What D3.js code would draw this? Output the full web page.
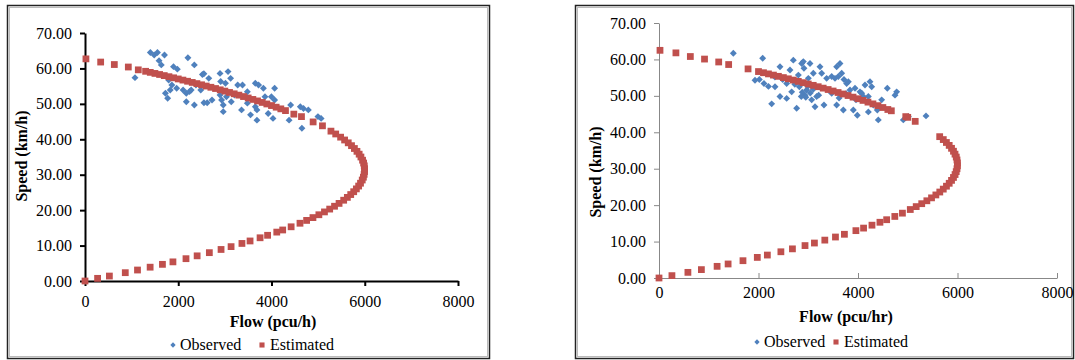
<!DOCTYPE html>
<html>
<head>
<meta charset="utf-8">
<script src="https://cdn.jsdelivr.net/npm/d3@7"></script>
<style>
  body { margin: 0; background: #fff; }
  svg { display: block; }
  text { font-family: "Liberation Serif", "Times New Roman", serif; fill: #000; }
</style>
</head>
<body>
<script>
// axis ticks
const xTicks = [0, 2000, 4000, 6000, 8000];
const yTicks = [0, 10, 20, 30, 40, 50, 60, 70];
const seriesNames = ["Observed", "Estimated"];

// left chart: [flow, speed]
const leftObserved = [
  [1402,64.5],[1484,63.8],[1554,64.5],[1705,63.8],[1588,62.2],[1636,61.0],[1072,57.4],
  [2207,63.0],[2345,61.0],[1898,60.5],[1981,59.8],[2518,58.3],[2655,57.2],[2896,58.6],
  [3068,59.1],[3123,57.2],[2910,56.3],[3013,55.8],[3275,55.3],[1795,56.7],[1863,55.3],
  [1828,53.9],[1725,53.0],[1773,51.6],[1966,54.4],[2104,53.9],[2173,53.0],[2242,53.5],
  [2277,53.9],[2380,55.3],[2483,53.9],[2173,50.6],[2345,49.7],[2551,50.3],[2621,50.3],
  [2724,51.1],[2896,52.5],[2930,51.1],[2965,49.7],[2965,47.8],[3034,52.0],[3137,50.6],
  [3206,52.5],[3357,48.3],[3378,55.3],[3482,53.4],[3653,55.8],[3723,55.3],[3826,54.4],
  [4067,54.4],[3482,50.2],[3653,49.2],[3860,52.0],[3998,52.0],[4067,51.1],[3550,46.9],
  [3688,48.3],[3929,47.3],[4032,45.9],[4411,49.7],[4377,45.4],[4618,49.2],[4686,48.7],
  [4790,48.3],[4996,46.4],[5064,45.9],[4652,43.1],[3688,45.4],[2550,58.5]
];
const leftEstimated = [
  [0,0],[270,0.75],[523,1.4],[864,2.35],[1126,3.1],[1397,3.9],[1661,4.7],[1886,5.4],
  [2166,6.3],[2405,7.1],[2667,8.0],[2918,8.9],[3133,9.7],[3366,10.6],[3540,11.3],
  [3755,12.2],[3916,12.9],[4113,13.8],[4240,14.4],[4421,15.3],[4611,16.3],[4753,17.1],
  [4889,17.9],[5016,18.7],[5136,19.5],[5248,20.3],[5352,21.1],[5449,21.9],[5548,22.8],
  [5627,23.6],[5699,24.4],[5763,25.2],[5820,26.0],[5869,26.8],[5909,27.6],[5946,28.5],
  [5971,29.3],[5987,30.1],[5996,30.9],[5996,31.7],[5990,32.5],[5976,33.3],[5953,34.1],
  [5918,35.0],[5880,35.8],[5833,36.6],[5778,37.4],[5716,38.2],[5646,39.0],[5568,39.8],
  [5482,40.6],[5377,41.5],[5275,42.3],
  [5093,43.8],[4893,44.9],[4643,46.4],[4479,47.1],
  [4300,48.10],[4200,48.59],[4100,49.06],[4000,49.52],[3900,49.97],[3800,50.40],[3700,50.83],
  [3600,51.25],[3500,51.66],[3400,52.06],[3300,52.46],[3200,52.84],[3100,53.22],[3000,53.60],
  [2900,53.96],[2800,54.33],[2700,54.68],[2600,55.03],[2500,55.38],[2400,55.72],[2300,56.05],
  [2200,56.38],[2100,56.71],[2000,57.03],[1900,57.35],[1800,57.67],[1700,57.98],[1600,58.29],
  [1500,58.59],[1400,58.89],[1300,59.19],
  [1143,59.6],[929,60.4],[629,61.1],[336,61.8],[20,62.7]
];

// right chart: [flow, speed]
const rightObserved = [
  [1494,61.7],[2084,60.3],[1930,54.3],[2017,54.5],[2110,53.4],[2265,47.8],[2332,52.5],
  [2432,58.0],[2486,54.5],[2566,53.4],[2633,57.1],[2667,51.1],[2700,59.8],[2767,46.6],
  [2801,55.7],[2821,52.5],[2868,58.9],[2901,59.4],[2914,57.6],[2935,50.2],[2968,51.6],
  [3002,54.8],[3035,58.9],[3069,48.9],[3102,56.2],[3136,47.0],[3169,49.8],[3236,58.0],
  [3270,56.2],[3316,47.5],[3370,54.8],[3471,55.3],[3538,54.8],[3571,58.0],[3605,55.3],
  [3638,58.9],[3672,56.2],[3718,54.5],[3772,53.4],[3806,53.9],[3839,51.6],[3906,46.1],
  [3960,48.9],[3986,44.7],[4040,51.1],[4074,50.7],[4107,49.8],[4141,53.0],[4208,45.6],
  [4241,53.9],[4275,52.5],[4308,47.5],[4388,46.1],[4408,43.4],[4476,48.9],[4589,52.1],
  [4777,51.1],[4744,50.2],[4911,43.4],[5012,44.3],[5367,44.5],[2432,49.8],[2566,49.3],
  [3471,50.7],[3571,47.5],[3705,46.1],[3940,52.1],[4208,49.8],[2880,51.0],[2950,49.6],
  [3040,50.8],[2990,52.6],[2860,49.8],[3100,51.8],[3210,50.2],[2730,53.2],[3420,51.5],
  [3620,49.4],[3760,50.6],[2200,52.6],[2330,55.2]
];
const rightEstimated = [
  [0,0],[260,0.65],[581,1.55],[852,2.3],[1168,3.2],[1389,3.85],[1688,4.75],[1976,5.65],
  [2178,6.3],[2450,7.2],[2682,8.0],[2935,8.9],[3124,9.6],[3333,10.4],[3547,11.25],
  [3727,12.0],[3958,13.0],[4112,13.7],[4281,14.5],[4441,15.3],[4576,16.0],[4740,16.9],
  [4893,17.8],[5051,18.8],[5170,19.6],[5281,20.4],[5384,21.2],[5478,22.0],[5565,22.8],
  [5644,23.6],[5714,24.4],[5778,25.2],[5833,26.0],[5880,26.8],[5919,27.6],[5951,28.4],
  [5974,29.2],[5990,30.0],[5998,30.8],[5998,31.6],[5990,32.4],[5975,33.2],[5950,34.0],
  [5919,34.8],[5880,35.6],[5833,36.4],[5777,37.2],[5714,38.0],[5642,38.8],
  [5150,43.0],[5000,44.1],[4960,44.3],[4670,45.9],
  [4600,46.26],[4500,46.80],[4400,47.31],[4300,47.80],[4200,48.28],[4100,48.75],[4000,49.21],
  [3900,49.65],[3800,50.09],[3700,50.51],[3600,50.92],[3500,51.33],[3400,51.74],[3300,52.12],
  [3200,52.51],[3100,52.89],[3000,53.25],[2900,53.62],[2800,53.98],[2700,54.33],[2600,54.68],
  [2500,55.02],[2400,55.36],[2300,55.70],[2200,56.03],[2100,56.35],[2000,56.67],
  [1790,57.4],[1400,58.6],[1200,59.3],[915,60.1],[630,60.8],[340,61.8],[20,62.5]
];

const blue = "#4f81bd", red = "#c0504d";

const svg = d3.select("body").append("svg")
    .attr("width", 1075)
    .attr("height", 360);

const diamond = d3.symbol(d3.symbolSquare, 24);
const square = d3.symbol(d3.symbolSquare, 46);

function drawPanel(p) {
    const g = svg.append("g");

    // chart frame (dark line with a grey inner line)
    g.append("rect")
        .attr("x", p.frame[0] + 0.5).attr("y", p.frame[1] + 0.5)
        .attr("width", p.frame[2] - p.frame[0]).attr("height", p.frame[3] - p.frame[1])
        .attr("fill", "none").attr("stroke", "#222").attr("stroke-width", 1.5);
    g.append("rect")
        .attr("x", p.frame[0] + 2.5).attr("y", p.frame[1] + 2.5)
        .attr("width", p.frame[2] - p.frame[0] - 4).attr("height", p.frame[3] - p.frame[1] - 4)
        .attr("fill", "none").attr("stroke", "#bbb").attr("stroke-width", 1);

    const x = d3.scaleLinear().domain([0, 8000]).range([p.left, p.right]);
    const y = d3.scaleLinear().domain([0, 70]).range([p.bottom, p.top]);

    const yAxis = g.append("g")
        .attr("transform", `translate(${p.left},0)`)
        .call(d3.axisLeft(y).tickValues(yTicks).tickFormat(d3.format(".2f"))
            .tickSizeInner(5).tickSizeOuter(0).tickPadding(8));

    const xAxis = g.append("g")
        .attr("transform", `translate(0,${p.bottom})`)
        .call(d3.axisBottom(x).tickValues(xTicks).tickFormat(d3.format("d"))
            .tickSizeInner(p.xTickSize).tickSizeOuter(0).tickPadding(p.xPad));

    [xAxis, yAxis].forEach(a => {
        a.attr("font-size", 16).attr("font-family", null);
        a.selectAll("path, line").attr("stroke", p.axisColor).attr("stroke-width", p.axisWidth);
        a.selectAll("text").attr("fill", "#000");
    });

    // observed first, estimated on top
    g.append("g").selectAll("path")
        .data(p.observed)
        .join("path")
        .attr("d", diamond)
        .attr("transform", d => `translate(${x(d[0])},${y(d[1])}) rotate(45)`)
        .attr("fill", blue);

    g.append("g").selectAll("path")
        .data(p.estimated)
        .join("path")
        .attr("d", square)
        .attr("transform", d => `translate(${x(d[0])},${y(d[1])})`)
        .attr("fill", red);

    // axis titles
    g.append("text")
        .attr("x", p.xTitle[0]).attr("y", p.xTitle[1])
        .attr("text-anchor", "middle")
        .attr("font-size", 16).attr("font-weight", "bold")
        .text(p.xLabel);

    g.append("text")
        .attr("transform", `translate(${p.yTitle[0]},${p.yTitle[1]}) rotate(-90)`)
        .attr("text-anchor", "middle")
        .attr("font-size", 16).attr("font-weight", "bold")
        .text("Speed (km/h)");

    // legend
    const lg = g.append("g");
    lg.append("path")
        .attr("d", d3.symbol(d3.symbolSquare, 14))
        .attr("transform", `translate(${p.legend[0]},${p.legend[2] - 5}) rotate(45)`)
        .attr("fill", blue);
    lg.append("text")
        .attr("x", p.legend[0] + 7).attr("y", p.legend[2])
        .attr("font-size", 16)
        .text(seriesNames[0]);
    lg.append("path")
        .attr("d", d3.symbol(d3.symbolSquare, 26))
        .attr("transform", `translate(${p.legend[1]},${p.legend[2] - 5})`)
        .attr("fill", red);
    lg.append("text")
        .attr("x", p.legend[1] + 8).attr("y", p.legend[2])
        .attr("font-size", 16)
        .text(seriesNames[1]);
}

drawPanel({
    frame: [7, 5, 489, 358],
    left: 85, right: 458, top: 33, bottom: 281,
    axisColor: "#000", axisWidth: 2,
    xTickSize: 5, xPad: 10,
    observed: leftObserved, estimated: leftEstimated,
    xLabel: "Flow (pcu/h)", xTitle: [273, 327],
    yTitle: [27, 156],
    legend: [173, 262, 350]
});

drawPanel({
    frame: [575, 5, 1073, 358],
    left: 659, right: 1057, top: 23, bottom: 278,
    axisColor: "#888", axisWidth: 1,
    xTickSize: -5, xPad: 8.6,
    observed: rightObserved, estimated: rightEstimated,
    xLabel: "Flow (pcu/hr)", xTitle: [846, 322],
    yTitle: [601, 172],
    legend: [757, 836, 347]
});
</script>
</body>
</html>
